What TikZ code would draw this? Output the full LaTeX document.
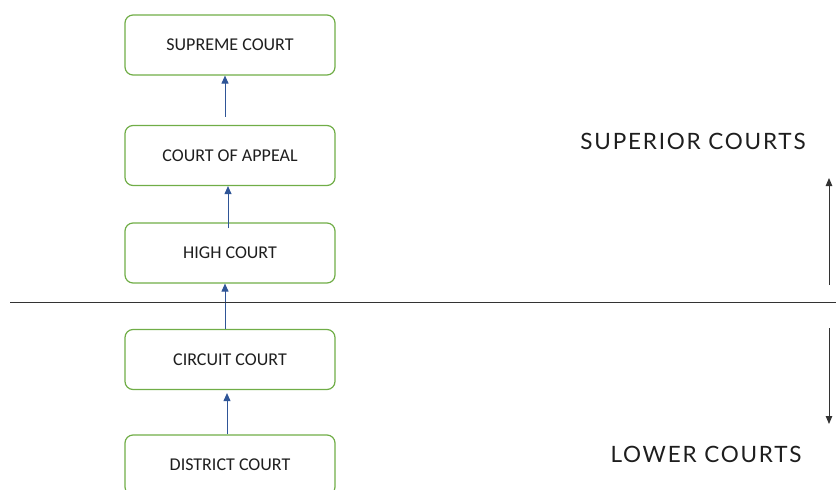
\documentclass[tikz,border=0pt]{standalone}
\usepackage{fontspec}
\setmainfont{Carlito}
\newfontfamily\labelfont[LetterSpace=8]{Lato}
\usetikzlibrary{arrows.meta}
\definecolor{boxgreen}{RGB}{112,173,71}
\definecolor{arrowblue}{RGB}{47,85,151}
\definecolor{textgray}{RGB}{30,30,30}

\begin{document}
\begin{tikzpicture}[x=1pt,y=-1pt,
  court/.style={draw=boxgreen, line width=1.2pt, rounded corners=8pt,
    minimum width=210pt, minimum height=60pt,
    font=\fontsize{18}{21}\selectfont, text=textgray},
  uparrow/.style={-{Triangle[length=8pt,width=7pt]}, arrowblue, line width=1pt},
  sidearrow/.style={-{Triangle[length=8pt,width=6.5pt]}, black!80, line width=0.9pt},
  sidelabel/.style={font=\labelfont\fontsize{22.5}{26}\selectfont, text=textgray}]

\useasboundingbox (0,0) rectangle (836,490);

\coordinate (divl) at (10,302);
\coordinate (divr) at (836,302);
\coordinate (upfrom) at (829,285);
\coordinate (upto) at (829,178);
\coordinate (downfrom) at (829,328);
\coordinate (downto) at (829,424);

% los tribunales
\node[court] (supreme) at (230,45) {SUPREME COURT};
\node[court] (appeal) at (230,155.5) {COURT OF APPEAL};
\node[court] (high) at (230,253) {HIGH COURT};
\node[court] (circuit) at (230,359.5) {CIRCUIT COURT};
\node[court] (district) at (230,465) {DISTRICT COURT};

% flechas de apelacion
\draw[uparrow] ([xshift=-5pt,yshift=8pt]appeal.north) -- ([xshift=-5pt]supreme.south);
\draw[uparrow] ([xshift=-2pt,yshift=-6pt]high.north) -- ([xshift=-2pt]appeal.south);
\draw[uparrow] ([xshift=-5pt]circuit.north) -- ([xshift=-5pt]high.south);
\draw[uparrow] ([xshift=-3pt]district.north) -- ([xshift=-3pt,yshift=-3pt]circuit.south);

% linea divisoria
\draw[line width=0.8pt, black!80] (divl) -- (divr);

% niveles
\draw[sidearrow] (upfrom) -- (upto);
\draw[sidearrow] (downfrom) -- (downto);
\node[sidelabel] (superior) at (693,141) {SUPERIOR COURTS};
\node[sidelabel] (lower) at (706,454) {LOWER COURTS};
\end{tikzpicture}
\end{document}
